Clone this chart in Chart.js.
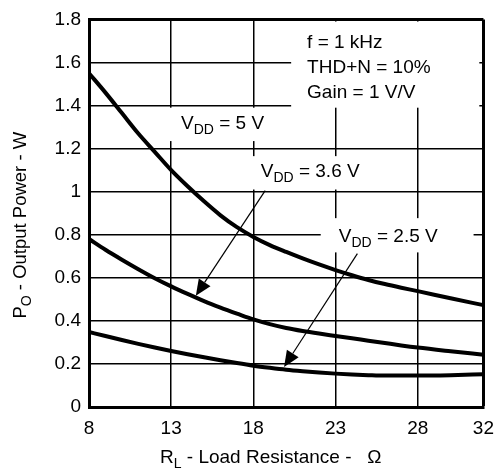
<!DOCTYPE html>
<html>
<head>
<meta charset="utf-8">
<script src="https://cdn.jsdelivr.net/npm/chart.js@4.4.1/dist/chart.umd.min.js"></script>
<style>
    html, body { margin: 0; padding: 0; background: #fff; }
    #wrap { width: 504px; height: 471px; }
</style>
</head>
<body>
<div id="wrap"><canvas id="chart"></canvas></div>
<script>
// Load resistance (ohm) sample points along each curve
const rLoad = [8, 9, 10, 11, 12, 13, 14, 15, 16, 17, 18, 19, 20, 21, 22, 23, 24, 25, 26, 27, 28, 30, 32];

// Output power (W) for each supply voltage
const pVdd5 = [1.55, 1.46, 1.365, 1.27, 1.185, 1.10, 1.025, 0.955, 0.89, 0.835, 0.79, 0.752, 0.72, 0.69, 0.662, 0.636, 0.612, 0.59, 0.571, 0.554, 0.538, 0.505, 0.473];
const pVdd36 = [0.78, 0.73, 0.684, 0.64, 0.598, 0.56, 0.525, 0.492, 0.462, 0.434, 0.407, 0.385, 0.367, 0.353, 0.341, 0.33, 0.319, 0.308, 0.297, 0.286, 0.276, 0.259, 0.243];
const pVdd25 = [0.348, 0.33, 0.311, 0.293, 0.276, 0.26, 0.245, 0.231, 0.217, 0.204, 0.192, 0.182, 0.173, 0.166, 0.16, 0.155, 0.151, 0.148, 0.146, 0.146, 0.146, 0.148, 0.152];

const xTicks = [8, 13, 18, 23, 28, 32];

const FONT = '"Liberation Sans", Arial, sans-serif';
const toPoints = (ys) => ys.map((y, i) => ({ x: rLoad[i], y: y }));

// white label boxes with text, in data coordinates
const noteBoxes = [
    { x0: 20.3, x1: 31.75, y0: 1.79, y1: 1.39 },
    { x0: 12.58, x1: 21.6, y0: 1.39, y1: 1.235 },
    { x0: 17.5, x1: 26.6, y0: 1.165, y1: 1.01 },
    { x0: 22.1, x1: 31.4, y0: 0.877, y1: 0.718 }
];
const noteTexts = [
    { x: 21.27, y: 1.667, parts: [['f = 1 kHz', false]] },
    { x: 21.27, y: 1.549, parts: [['THD+N = 10%', false]] },
    { x: 21.27, y: 1.435, parts: [['Gain = 1 V/V', false]] },
    { x: 13.6, y: 1.293, parts: [['V', false], ['DD', true], [' = 5 V', false]] },
    { x: 18.45, y: 1.069, parts: [['V', false], ['DD', true], [' = 3.6 V', false]] },
    { x: 23.2, y: 0.767, parts: [['V', false], ['DD', true], [' = 2.5 V', false]] }
];
const arrows = [
    { from: [18.72, 1.005], to: [14.5, 0.517] },
    { from: [24.33, 0.712], to: [19.87, 0.186] }
];

function drawParts(ctx, parts, x, y, size) {
    let cx = x;
    parts.forEach(p => {
        const sub = p[1];
        ctx.font = (sub ? Math.round(size * 0.76) : size) + 'px ' + FONT;
        ctx.fillText(p[0], cx, sub ? y + 5 : y);
        cx += ctx.measureText(p[0]).width;
    });
    return cx - x;
}

function measureParts(ctx, parts, size) {
    let w = 0;
    parts.forEach(p => {
        ctx.font = (p[1] ? Math.round(size * 0.76) : size) + 'px ' + FONT;
        w += ctx.measureText(p[0]).width;
    });
    return w;
}

const notesPlugin = {
    id: 'notes',
    beforeDatasetsDraw(chart) {
        const ctx = chart.ctx;
        const xs = chart.scales.x, ys = chart.scales.y;
        ctx.save();
        ctx.fillStyle = '#fff';
        noteBoxes.forEach(b => {
            const l = xs.getPixelForValue(b.x0), r = xs.getPixelForValue(b.x1);
            const t = ys.getPixelForValue(b.y0), bt = ys.getPixelForValue(b.y1);
            ctx.fillRect(l, t, r - l, bt - t);
        });
        ctx.fillStyle = '#000';
        ctx.textBaseline = 'alphabetic';
        ctx.textAlign = 'left';
        noteTexts.forEach(n => {
            drawParts(ctx, n.parts, xs.getPixelForValue(n.x), ys.getPixelForValue(n.y), 19);
        });
        ctx.restore();
    },
    afterDatasetsDraw(chart) {
        const ctx = chart.ctx;
        const xs = chart.scales.x, ys = chart.scales.y;
        ctx.save();
        ctx.strokeStyle = '#000';
        ctx.fillStyle = '#000';
        ctx.lineWidth = 1.2;
        arrows.forEach(a => {
            const x1 = xs.getPixelForValue(a.from[0]), y1 = ys.getPixelForValue(a.from[1]);
            const x2 = xs.getPixelForValue(a.to[0]), y2 = ys.getPixelForValue(a.to[1]);
            const ang = Math.atan2(y2 - y1, x2 - x1);
            const len = 16, half = 7;
            const bx = x2 - len * Math.cos(ang), by = y2 - len * Math.sin(ang);
            ctx.beginPath();
            ctx.moveTo(x1, y1);
            ctx.lineTo(bx, by);
            ctx.stroke();
            ctx.beginPath();
            ctx.moveTo(x2, y2);
            ctx.lineTo(bx + half * Math.sin(ang), by - half * Math.cos(ang));
            ctx.lineTo(bx - half * Math.sin(ang), by + half * Math.cos(ang));
            ctx.closePath();
            ctx.fill();
        });
        ctx.restore();
    },
    afterDraw(chart) {
        // axis titles with subscripts
        const ctx = chart.ctx;
        const area = chart.chartArea;
        ctx.save();
        ctx.fillStyle = '#000';
        ctx.textBaseline = 'alphabetic';
        ctx.textAlign = 'left';
        const xParts = [['R', false], ['L', true], [' - Load Resistance -   Ω', false]];
        drawParts(ctx, xParts, area.left + 71, 463, 19);

        const yParts = [['P', false], ['O', true], [' - Output Power - W', false]];
        const w = measureParts(ctx, yParts, 18.5);
        ctx.translate(26, (area.top + area.bottom) / 2 + 12);
        ctx.rotate(-Math.PI / 2);
        drawParts(ctx, yParts, -w / 2, 0, 18.5);
        ctx.restore();
    }
};

const curveStyle = {
    borderColor: '#000',
    borderWidth: 4,
    pointRadius: 0,
    fill: false,
    cubicInterpolationMode: 'monotone'
};

new Chart(document.getElementById('chart'), {
    type: 'line',
    plugins: [notesPlugin],
    data: {
        datasets: [
            Object.assign({ label: 'VDD = 5 V', data: toPoints(pVdd5) }, curveStyle),
            Object.assign({ label: 'VDD = 3.6 V', data: toPoints(pVdd36) }, curveStyle),
            Object.assign({ label: 'VDD = 2.5 V', data: toPoints(pVdd25) }, curveStyle)
        ]
    },
    options: {
        responsive: true,
        maintainAspectRatio: false,
        animation: false,
        layout: { padding: { top: 13, right: 17, left: 0, bottom: 0 } },
        plugins: {
            legend: { display: false },
            tooltip: { enabled: false }
        },
        scales: {
            x: {
                type: 'linear',
                min: 8,
                max: 32,
                afterBuildTicks: (axis) => { axis.ticks = xTicks.map(v => ({ value: v })); },
                afterFit: (axis) => { axis.height = 64; },
                ticks: {
                    color: '#000',
                    padding: 10,
                    maxRotation: 0,
                    autoSkip: false,
                    font: { family: FONT, size: 19 }
                },
                grid: {
                    color: '#000',
                    drawTicks: false,
                    lineWidth: (c) => (c.tick && c.tick.value === 32 ? 3 : 1.5)
                },
                border: { color: '#000', width: 3 }
            },
            y: {
                min: 0,
                max: 1.8,
                afterFit: (axis) => { axis.width = 89; },
                ticks: {
                    stepSize: 0.2,
                    color: '#000',
                    padding: 8,
                    font: { family: FONT, size: 19 },
                    callback: (v) => String(parseFloat(v.toFixed(1)))
                },
                grid: {
                    color: '#000',
                    drawTicks: false,
                    lineWidth: (c) => (c.tick && Math.abs(c.tick.value - 1.8) < 1e-6 ? 3 : 1.5)
                },
                border: { color: '#000', width: 3 }
            }
        }
    }
});
</script>
</body>
</html>
